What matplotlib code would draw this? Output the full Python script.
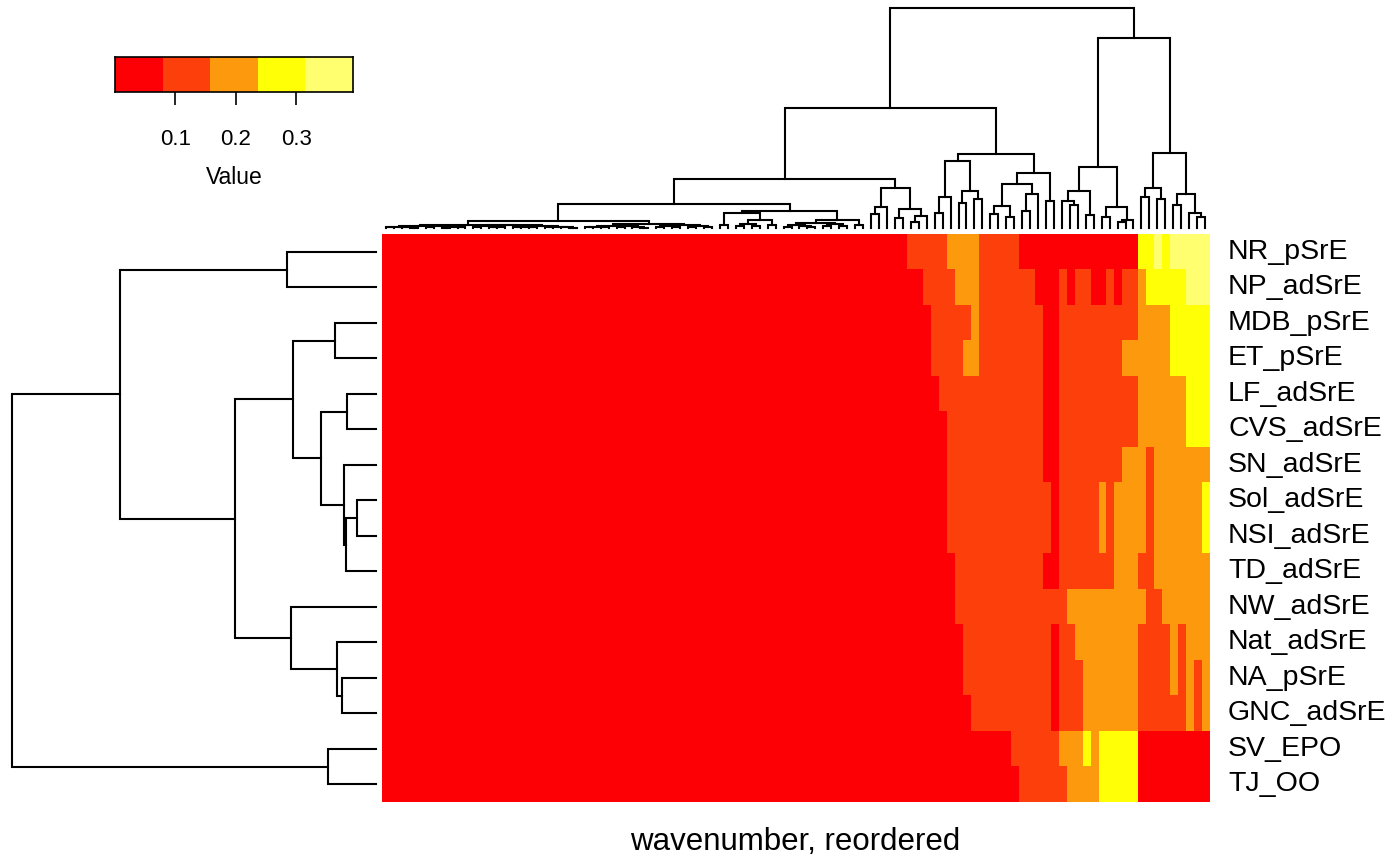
import numpy as np
import matplotlib
matplotlib.use("Agg")
import matplotlib.pyplot as plt
from matplotlib.colors import ListedColormap, BoundaryNorm

plt.rcParams['font.family'] = ['Liberation Sans', 'DejaVu Sans']

# ---------------- data ----------------
row_labels = ["NR_pSrE", "NP_adSrE", "MDB_pSrE", "ET_pSrE", "LF_adSrE", "CVS_adSrE",
              "SN_adSrE", "Sol_adSrE", "NSI_adSrE", "TD_adSrE", "NW_adSrE", "Nat_adSrE",
              "NA_pSrE", "GNC_adSrE", "SV_EPO", "TJ_OO"]

# representative value for each colour class (class index 0..4)
class_values = [0.04, 0.12, 0.20, 0.28, 0.36]
breaks = [0.0, 0.079, 0.158, 0.236, 0.315, 0.394]
colors = ["#FD0006", "#FD400B", "#FD990D", "#FFFF05", "#FFFF70"]
key_ticks = [0.1, 0.2, 0.3]

# run-length encoded rows (class, number of columns), columns in reordered order
rle_rows = [
    [(0, 66), (1, 5), (2, 4), (1, 5), (0, 15), (3, 2), (4, 1), (3, 1), (4, 5)],
    [(0, 68), (1, 4), (2, 3), (1, 7), (0, 3), (1, 1), (0, 1), (1, 2), (0, 2), (1, 1), (0, 1), (1, 2), (2, 1), (3, 5), (4, 3)],
    [(0, 69), (1, 5), (2, 1), (1, 8), (0, 2), (1, 10), (2, 4), (3, 5)],
    [(0, 69), (1, 4), (2, 2), (1, 8), (0, 2), (1, 8), (2, 6), (3, 5)],
    [(0, 70), (1, 13), (0, 2), (1, 10), (2, 6), (3, 3)],
    [(0, 71), (1, 12), (0, 2), (1, 10), (2, 6), (3, 3)],
    [(0, 71), (1, 12), (0, 2), (1, 8), (2, 3), (1, 1), (2, 7)],
    [(0, 71), (1, 13), (0, 1), (1, 5), (2, 1), (1, 1), (2, 4), (1, 1), (2, 6), (3, 1)],
    [(0, 71), (1, 13), (0, 1), (1, 5), (2, 1), (1, 1), (2, 4), (1, 1), (2, 6), (3, 1)],
    [(0, 72), (1, 11), (0, 2), (1, 7), (2, 3), (1, 2), (2, 7)],
    [(0, 72), (1, 14), (2, 10), (1, 2), (2, 6)],
    [(0, 73), (1, 11), (0, 1), (1, 2), (2, 8), (1, 4), (2, 1), (1, 1), (2, 3)],
    [(0, 73), (1, 11), (0, 1), (1, 3), (2, 7), (1, 4), (2, 1), (1, 1), (2, 1), (1, 1), (2, 1)],
    [(0, 74), (1, 10), (0, 1), (1, 3), (2, 7), (1, 6), (2, 1), (1, 1), (2, 1)],
    [(0, 79), (1, 6), (2, 3), (3, 1), (2, 1), (3, 5), (0, 9)],
    [(0, 80), (1, 6), (2, 4), (3, 5), (0, 9)],
]

# column dendrogram: [height, left, right]; leaves are column indices
col_tree = [220,
  [120,
    [49,
      [24,
        [7.0,
          [3.0,
            [2.2,
              [1.4, [0.6, 0, 1], [0.9, 2, [0.4, 3, 4]]],
              [1.8, [1.0, 5, 6], [1.2, [0.5, 7, 8], [0.7, 9, 10]]]],
            [2.6,
              [1.6, [0.8, 11, 12], [1.1, [0.6, 13, 14], 15]],
              [2.0, [1.3, [0.7, 16, 17], [0.9, 18, 19]],
                    [1.5, [0.8, 20, 21], [1.0, 22, [0.5, 23, 24]]]]]],
          [4.0,
            [2.4, [1.2, [0.6, 25, 26], [0.8, 27, 28]], [1.6, [0.7, 29, 30], [1.0, 31, [0.5, 32, 33]]]],
            [3.0, [1.8, [0.9, 34, 35], [1.1, 36, 37]], [2.2, [1.3, 38, 39], [0.8, 40, 41]]]]],
        [16.7,
          [14.7, [3.5, 42, 43], [8.0, [4.0, [2.0, 44, 45], [2.5, 46, 47]], [3.0, 48, 49]]],
          [8.0,
            [5.5, [3.5, [1.5, 50, 51], [2.0, 52, [1.0, 53, 54]]], [4.0, [2.5, 55, 56], [1.8, 57, 58]]],
            [3.0, 59, 60]]]],
      [40.3,
        [21.3, [13.7, 61, 62], 63],
        [18.7, [9.7, 64, 65], [12.0, [6.3, 66, 67], 68]]]],
    [73.7,
      [67.3,
        [30.7, [15.3, 69, 70], 71],
        [37.3, [24.7, 72, 73], [28.7, 74, 75]]],
      [55.3,
        [44.3,
          [22.0, [14.0, 76, 77], [10.7, 78, 79]],
          [33.7, [16.7, 80, 81], 82]],
        [27.0, 83, 84]]]],
  [190.3,
    [60.7,
      [37.0, [27.0, 85, [23.0, 86, 87]], [13.0, 88, 89]],
      [20.7, [11.3, 90, 91], [8.0, [6.3, 92, 93], 94]]],
    [74.7,
      [40.3, [30.7, 95, 96], [28.7, 97, 98]],
      [34.0, [23.0, 99, 100], [14.7, 101, [11.3, 102, 103]]]]]]

# row dendrogram: [height, top, bottom]; leaves are row indices
row_tree = [364,
  [256,
    [89, 0, 1],
    [141,
      [83,
        [41, 2, 3],
        [55,
          [29, 4, 5],
          [32, 6, [30, [19, 7, 8], 9]]]],
      [85, 10, [39, 11, [34, 12, 13]]]]],
  [48, 14, 15]]

# ---------------- build matrix ----------------
mat = np.array([np.repeat([class_values[c] for c, n in r], [n for c, n in r]) for r in rle_rows])
nrow, ncol = mat.shape

W, H = 1400, 866
fig = plt.figure(figsize=(W / 100, H / 100), dpi=100)

def ax_px(x0, y0, x1, y1):
    return fig.add_axes([x0 / W, 1 - y1 / H, (x1 - x0) / W, (y1 - y0) / H])

hx0, hx1, hy0, hy1 = 382, 1209, 234, 802
cmap = ListedColormap(colors)
norm = BoundaryNorm(breaks, cmap.N)

axh = ax_px(hx0, hy0, hx1, hy1)
axh.imshow(mat, cmap=cmap, norm=norm, aspect='auto', interpolation='nearest',
           extent=(0, ncol, nrow, 0))
axh.set_axis_off()

lw = 1.5

def draw(ax, node, horizontal):
    if isinstance(node, int):
        return node + 0.5, 0.0
    h, a, b = node
    ca, ha = draw(ax, a, horizontal)
    cb, hb = draw(ax, b, horizontal)
    xs = [ca, ca, cb, cb]
    ys = [ha, h, h, hb]
    if horizontal:
        ax.plot(ys, xs, color='black', lw=lw, solid_joinstyle='miter', clip_on=False)
    else:
        ax.plot(xs, ys, color='black', lw=lw, solid_joinstyle='miter', clip_on=False)
    return (ca + cb) / 2, h

# column dendrogram
axc = ax_px(hx0, 8, hx1, 228)
draw(axc, col_tree, False)
axc.set_xlim(0, ncol)
axc.set_ylim(0, col_tree[0])
axc.set_axis_off()

# row dendrogram
axr = ax_px(12, hy0, 376, hy1)
draw(axr, row_tree, True)
axr.set_ylim(nrow, 0)
axr.set_xlim(row_tree[0], 0)
axr.set_axis_off()

# row labels
for i, lab in enumerate(row_labels):
    yc = hy0 + (hy1 - hy0) * (i + 0.5) / nrow
    fig.text(1228 / W, 1 - yc / H, lab, ha='left', va='center', fontsize=20.5)

fig.text((hx0 + hx1) / 2 / W, 1 - 842 / H, "wavenumber, reordered", ha='center', va='center',
         fontsize=22.5)

# colour key
axk = ax_px(115, 57, 353, 92)
for j in range(len(colors)):
    axk.axvspan(breaks[j], breaks[j + 1], color=colors[j], lw=0)
axk.set_xlim(breaks[0], breaks[-1])
axk.set_ylim(0, 1)
axk.set_yticks([])
axk.set_xticks(key_ticks)
axk.set_xticklabels([f"{t:.1f}" for t in key_ticks], fontsize=16)
axk.tick_params(axis='x', length=9.5, width=1.2, pad=17)
for s in axk.spines.values():
    s.set_linewidth(1.2)
axk.set_xlabel("Value", fontsize=16.5, labelpad=12)

fig.savefig("out.png", dpi=100)
